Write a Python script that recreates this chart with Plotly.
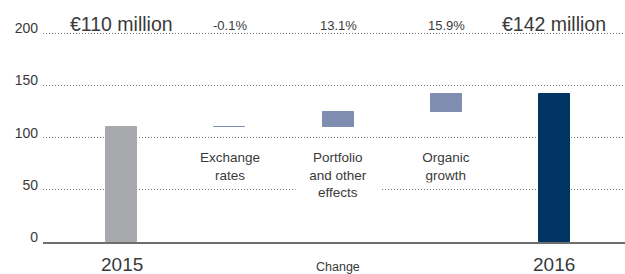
import plotly.graph_objects as go

# ---- data ----
start_label = "2015"
end_label = "2016"
start_value = 110
end_value = 142
change_labels = ["Exchange<br>rates", "Portfolio<br>and other<br>effects", "Organic<br>growth"]
change_pct = [-0.1, 13.1, 15.9]
top_labels = ["€110 million", "-0.1%", "13.1%", "15.9%", "€142 million"]
y_ticks = [0, 50, 100, 150, 200]

# ---- derived bar geometry (through the axis scales) ----
deltas = [start_value * p / 100 for p in change_pct]
bases = [0]
heights = [start_value]
cum = start_value
for d in deltas:
    bases.append(cum)
    heights.append(d)
    cum += d
bases.append(0)
heights.append(end_value)

xpos = list(range(5))
colors = ["#a7a9ac", "#7f8db0", "#7f8db0", "#7f8db0", "#003462"]

fig = go.Figure()
fig.add_trace(go.Bar(
    x=xpos, y=heights, base=bases, width=0.287,
    marker=dict(color=colors, line=dict(color=colors, width=1)),
    showlegend=False, hoverinfo="skip",
))

font = "Liberation Sans, Arial, sans-serif"
txt = "#3a3a3a"

ann = []
# top labels
for i, t in enumerate(top_labels):
    big = i in (0, 4)
    ann.append(dict(x=xpos[i], y=1.0, xref="x", yref="paper", yanchor="middle",
                    yshift=-1 if big else -2, text=t, showarrow=False,
                    font=dict(family=font, size=19.5 if big else 13, color=txt)))
# category labels for changes
for j, t in enumerate(change_labels):
    ann.append(dict(x=xpos[j + 1], y=89, xref="x", yref="y", yanchor="top",
                    text=t, showarrow=False, align="center",
                    bgcolor="white", width=84, borderpad=0,
                    font=dict(family=font, size=13.5, color=txt)))
# bottom labels
ann.append(dict(x=xpos[0], y=0, xref="x", yref="paper", yanchor="top", yshift=-10,
                text=start_label, showarrow=False, font=dict(family=font, size=19, color=txt)))
ann.append(dict(x=xpos[4], y=0, xref="x", yref="paper", yanchor="top", yshift=-10,
                text=end_label, showarrow=False, font=dict(family=font, size=19, color=txt)))
ann.append(dict(x=xpos[2], y=0, xref="x", yref="paper", yanchor="top", yshift=-16,
                text="Change", showarrow=False, font=dict(family=font, size=12.5, color=txt)))

fig.update_layout(
    width=625, height=274,
    margin=dict(l=43, r=0, t=23, b=31.5),
    paper_bgcolor="white", plot_bgcolor="white",
    annotations=ann,
    xaxis=dict(range=[-0.731, 4.657], showticklabels=False, showgrid=False,
               zeroline=False, showline=True, linecolor="#6e6e6e", linewidth=1.5,
               fixedrange=True),
    yaxis=dict(range=[0, 210], tickvals=y_ticks, showgrid=True, gridcolor="#777777",
               griddash="1px,2px", gridwidth=1, zeroline=False, showline=False,
               tickfont=dict(family=font, size=14, color=txt), ticklabelshift=-5,
               ticklabelstandoff=4, fixedrange=True),
    bargap=0,
)
fig.write_html("out.html", config={"displayModeBar": False},
               post_script="document.body.style.margin='0';")
